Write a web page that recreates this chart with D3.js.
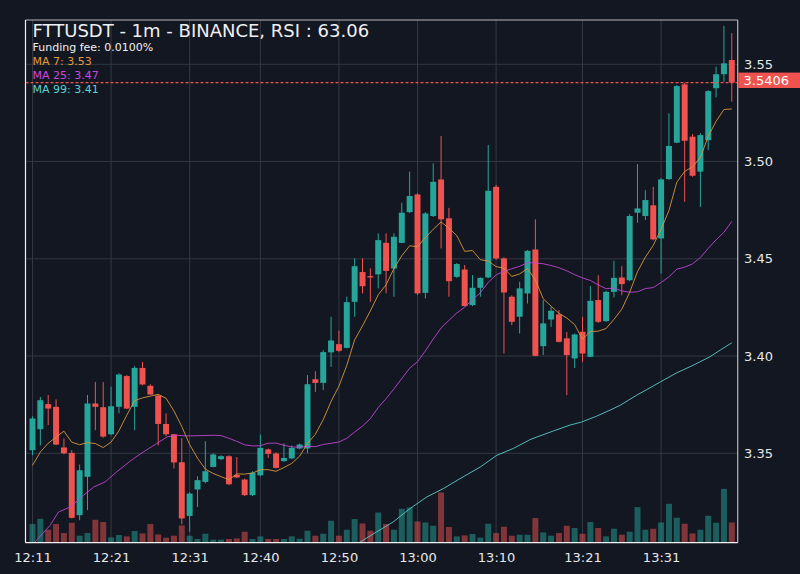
<!DOCTYPE html>
<html><head><meta charset="utf-8">
<script src="https://cdn.jsdelivr.net/npm/d3@7"></script>
<style>html,body{margin:0;padding:0;background:#131722;}svg{display:block}</style>
</head><body><svg id="c" width="800" height="574"></svg>
<script>
// ---------- DATA ----------
const titleText = "FTTUSDT - 1m - BINANCE, RSI : 63.06";
const fundingText = "Funding fee: 0.0100%";
const maLabels = ["MA 7: 3.53", "MA 25: 3.47", "MA 99: 3.41"];
const startTime = "12:11";              // first 1-minute candle
const tickLabels = ["12:11","12:21","12:31","12:40","12:50","13:00","13:10","13:21","13:31"];
const priceTicks = [3.35, 3.40, 3.45, 3.50, 3.55];
const lastPrice = 3.5406;

const open = [3.3516,3.3624,3.3753,3.3739,3.3530,3.3502,3.3182,3.3379,3.3756,3.3737,
3.3598,3.3739,3.3897,3.3739,3.3939,3.3847,3.3797,3.3651,3.3598,3.3454,
3.3178,3.3314,3.3353,3.3430,3.3470,3.3485,3.3389,3.3365,3.3285,3.3387,
3.3520,3.3499,3.3460,3.3474,3.3525,3.3525,3.3881,3.3862,3.4019,3.4061,
3.4042,3.4279,3.4432,3.4411,3.4420,3.4582,3.4450,3.4582,3.4740,3.4831,
3.4325,3.4720,3.4908,3.4708,3.4407,3.4445,3.4262,3.4351,3.4404,3.4870,
3.4502,3.4305,3.4202,3.4322,3.4548,3.4051,3.4188,3.4214,3.4091,3.3988,
3.4125,3.3996,3.4288,3.4180,3.4330,3.4404,3.4390,3.4737,3.4720,3.4775,
3.4605,3.4910,3.5097,3.5397,3.5128,3.4948,3.5110,3.5377,3.5449,3.5522];
const high = [3.3690,3.3790,3.3800,3.3777,3.3576,3.3516,3.3442,3.3800,3.3867,3.3866,
3.3842,3.3912,3.3902,3.3948,3.3970,3.3855,3.3802,3.3705,3.3600,3.3578,
3.3300,3.3382,3.3562,3.3500,3.3490,3.3490,3.3481,3.3370,3.3408,3.3597,
3.3525,3.3505,3.3551,3.3540,3.3550,3.3902,3.3922,3.4030,3.4202,3.4130,
3.4305,3.4502,3.4502,3.4451,3.4631,3.4631,3.4631,3.4788,3.4948,3.4838,
3.4740,3.4991,3.5131,3.4762,3.4478,3.4468,3.4416,3.4405,3.5085,3.4880,
3.4508,3.4313,3.4382,3.4545,3.4703,3.4288,3.4253,3.4236,3.4124,3.4116,
3.4202,3.4360,3.4416,3.4336,3.4490,3.4462,3.4730,3.4987,3.4853,3.4870,
3.4915,3.5248,3.5393,3.5405,3.5142,3.5146,3.5367,3.5488,3.5697,3.5660];
const low = [3.3490,3.3540,3.3645,3.3542,3.3495,3.3165,3.3156,3.3208,3.3619,3.3580,
3.3593,3.3706,3.3727,3.3619,3.3850,3.3800,3.3540,3.3588,3.3422,3.3135,
3.3096,3.3224,3.3346,3.3428,3.3465,3.3336,3.3372,3.3280,3.3280,3.3382,
3.3476,3.3422,3.3455,3.3470,3.3520,3.3500,3.3816,3.3825,3.3944,3.4020,
3.4040,3.4202,3.4322,3.4279,3.4348,3.4323,3.4305,3.4580,3.4735,3.4313,
3.4296,3.4715,3.4553,3.4305,3.4402,3.4255,3.4257,3.4305,3.4400,3.4495,
3.4013,3.4159,3.4116,3.4270,3.3999,3.4005,3.4150,3.4070,3.3799,3.3939,
3.3970,3.3994,3.4170,3.4175,3.4301,3.4313,3.4385,3.4685,3.4699,3.4595,
3.4425,3.4905,3.5095,3.4793,3.4922,3.4767,3.5059,3.5330,3.5410,3.5308];
const close = [3.3679,3.3773,3.3730,3.3545,3.3500,3.3168,3.3413,3.3756,3.3739,3.3586,
3.3742,3.3905,3.3730,3.3939,3.3854,3.3802,3.3651,3.3598,3.3453,3.3165,
3.3293,3.3362,3.3408,3.3494,3.3485,3.3341,3.3376,3.3285,3.3400,3.3528,
3.3497,3.3425,3.3476,3.3528,3.3545,3.3855,3.3862,3.4020,3.4080,3.4027,
3.4277,3.4462,3.4359,3.4404,3.4596,3.4438,3.4613,3.4737,3.4823,3.4322,
3.4733,3.4896,3.4703,3.4385,3.4473,3.4257,3.4351,3.4402,3.4850,3.4502,
3.4327,3.4176,3.4348,3.4541,3.4001,3.4168,3.4233,3.4073,3.4005,3.4111,
3.4013,3.4284,3.4176,3.4330,3.4402,3.4370,3.4720,3.4759,3.4802,3.4600,
3.4908,3.5080,3.5388,3.5107,3.4927,3.5136,3.5362,3.5449,3.5505,3.5406];
const volume = [18.7,24.0,13.0,18.7,9.7,20.0,7.0,9.7,23.0,20.7,
5.3,7.7,6.3,11.7,9.3,18.7,8.3,5.0,7.0,17.3,
7.0,3.7,9.0,3.0,3.0,3.7,4.3,11.0,3.7,6.3,
3.7,3.7,3.7,6.3,4.0,12.0,7.0,9.0,22.0,7.0,
13.0,23.7,19.3,12.0,30.3,18.7,13.0,34.0,35.3,21.3,
20.3,17.0,50.3,15.7,6.3,7.3,8.7,5.0,19.0,9.7,
16.0,7.0,8.0,8.0,24.7,10.3,7.0,9.7,17.0,14.7,
9.0,20.7,14.7,6.3,14.0,8.0,11.0,35.7,13.0,14.0,
20.3,39.0,25.0,19.0,9.3,13.0,27.0,20.0,54.0,20.3];

// moving-average warm-up values (before enough candles exist)
const ma7HeadIdx  = [0, 1, 2, 3, 4, 5];
const ma7HeadVal  = [3.3438, 3.3507, 3.3552, 3.3583, 3.3614, 3.3557];
const ma25HeadIdx = [0, 2.25, 3.3, 4.8, 6.5, 7.8, 9.25, 10.7, 12.4, 14.1, 15.8, 17.1, 18.4, 19.6, 23.2];
const ma25HeadVal = [3.3030, 3.3130, 3.3198, 3.3224, 3.3284, 3.3327, 3.3353, 3.3404, 3.3459, 3.3507, 3.3550, 3.3584, 3.3593, 3.3589, 3.3593];
// MA 99
const ma99Idx = [39, 41.7, 43.8, 45.9, 48.05, 50.2, 52.3, 54.8, 57.0, 59.1, 61.2, 63.3, 64.2, 66.3, 68.4, 69.9, 71.8, 73.5, 74.8, 76.9, 78.2, 79.9, 82.0, 84.1, 86.2, 87.5, 89];
const ma99Val = [3.2975, 3.3044, 3.3096, 3.3147, 3.3216, 3.3276, 3.3319, 3.3379, 3.3430, 3.3490, 3.3525, 3.3570, 3.3584, 3.3615, 3.3645, 3.3661, 3.3691, 3.3722, 3.3747, 3.3799, 3.3828, 3.3867, 3.3914, 3.3953, 3.3996, 3.4030, 3.4068];

// ---------- LAYOUT ----------
const plot = {l: 25.5, r: 737.7, t: 20, b: 542.7};
const colors = {bg:"#131722", up:"#26a69a", down:"#ef5350", grid:"#343843",
  ma7:"#d9963e", ma25:"#c045d4", ma99:"#5ccaca", text:"#e8e8e8"};
const font = "DejaVu Sans, Verdana, sans-serif";

const parseHM = d3.timeParse("%Y-%m-%d %H:%M");
const t0 = parseHM("2022-11-08 " + startTime);
const times = open.map((_, i) => d3.timeMinute.offset(t0, i));
const tAt = idx => new Date(t0.getTime() + idx * 60000);

const x = d3.scaleTime()
  .domain([tAt(-0.89), tAt(89.75)])
  .range([plot.l, plot.r]);
const y = d3.scaleLinear().domain([3.30404, 3.57278]).range([plot.b, plot.t]);
const yVol = d3.scaleLinear().domain([0, d3.max(volume)]).range([plot.b, plot.b - 0.103 * (plot.b - plot.t)]);

const step = x(tAt(1)) - x(tAt(0));
const bodyW = step * 0.76;

const svg = d3.select("#c");
svg.append("rect").attr("width", 800).attr("height", 574).attr("fill", colors.bg);

svg.append("defs").append("clipPath").attr("id", "clip")
  .append("rect").attr("x", plot.l).attr("y", plot.t)
  .attr("width", plot.r - plot.l).attr("height", plot.b - plot.t);

const tickTimes = tickLabels.map(s => parseHM("2022-11-08 " + s));

// grid
const grid = svg.append("g");
grid.selectAll("line.h").data(priceTicks).join("line")
  .attr("x1", plot.l).attr("x2", plot.r)
  .attr("y1", d => y(d)).attr("y2", d => y(d))
  .attr("stroke", colors.grid).attr("stroke-width", 1);
grid.selectAll("line.v").data(tickTimes).join("line")
  .attr("x1", d => x(d)).attr("x2", d => x(d))
  .attr("y1", plot.t).attr("y2", plot.b)
  .attr("stroke", colors.grid).attr("stroke-width", 1);

const g = svg.append("g").attr("clip-path", "url(#clip)");

// volume
g.selectAll("rect.vol").data(volume).join("rect")
  .attr("x", (d, i) => x(times[i]) - bodyW / 2)
  .attr("width", bodyW)
  .attr("y", d => yVol(d))
  .attr("height", d => plot.b - yVol(d))
  .attr("fill", (d, i) => close[i] >= open[i] ? colors.up : colors.down)
  .attr("opacity", 0.5);

// candles
const idx = d3.range(open.length);
g.selectAll("line.wick").data(idx).join("line")
  .attr("x1", i => x(times[i])).attr("x2", i => x(times[i]))
  .attr("y1", i => y(high[i])).attr("y2", i => y(low[i]))
  .attr("stroke", i => close[i] >= open[i] ? colors.up : colors.down)
  .attr("stroke-width", 1);
g.selectAll("rect.body").data(idx).join("rect")
  .attr("x", i => x(times[i]) - bodyW / 2)
  .attr("width", bodyW)
  .attr("y", i => y(Math.max(open[i], close[i])))
  .attr("height", i => Math.max(1, Math.abs(y(open[i]) - y(close[i]))))
  .attr("fill", i => close[i] >= open[i] ? colors.up : colors.down);

// moving averages
function sma(n, headIdx, headVal) {
  const pts = headIdx.map((k, j) => [k, headVal[j]]);
  for (let i = n - 1; i < close.length; i++) {
    pts.push([i, d3.mean(close.slice(i - n + 1, i + 1))]);
  }
  return pts;
}
const ma7 = sma(7, ma7HeadIdx, ma7HeadVal);
const ma25 = sma(25, ma25HeadIdx, ma25HeadVal);
const ma99 = ma99Idx.map((k, j) => [k, ma99Val[j]]);
const line = d3.line().x(d => x(tAt(d[0]))).y(d => y(d[1]));
[[ma99, colors.ma99], [ma25, colors.ma25], [ma7, colors.ma7]].forEach(([pts, c]) => {
  g.append("path").attr("d", line(pts)).attr("fill", "none")
    .attr("stroke", c).attr("stroke-width", 0.9);
});

// last price dashed line
svg.append("line")
  .attr("x1", plot.l).attr("x2", plot.r)
  .attr("y1", y(lastPrice)).attr("y2", y(lastPrice))
  .attr("stroke", colors.down).attr("stroke-width", 1.1)
  .attr("stroke-dasharray", "3,2");

// frame
svg.append("line").attr("x1", plot.l).attr("x2", plot.r).attr("y1", plot.t).attr("y2", plot.t)
  .attr("stroke", "#b8b8b8").attr("stroke-width", 1.2);
svg.append("line").attr("x1", plot.r).attr("x2", plot.r).attr("y1", plot.t).attr("y2", plot.b)
  .attr("stroke", "#b8b8b8").attr("stroke-width", 1.2);
svg.append("line").attr("x1", plot.l).attr("x2", plot.l).attr("y1", plot.t).attr("y2", plot.b)
  .attr("stroke", "#f2f2f2").attr("stroke-width", 1.2);
svg.append("line").attr("x1", plot.l).attr("x2", plot.r).attr("y1", plot.b).attr("y2", plot.b)
  .attr("stroke", "#f2f2f2").attr("stroke-width", 1.2);

// axes
const yAxis = d3.axisRight(y).tickValues(priceTicks).tickFormat(d3.format(".2f")).tickSize(0).tickPadding(6.3);
const ya = svg.append("g").attr("transform", `translate(${plot.r},0)`).call(yAxis);
ya.select(".domain").remove();
ya.selectAll("text").attr("fill", colors.text).style("font-family", font).style("font-size", "13px");

const xAxis = d3.axisBottom(x).tickValues(tickTimes).tickFormat(d3.timeFormat("%H:%M")).tickSize(0).tickPadding(10.5);
const xa = svg.append("g").attr("transform", `translate(0,${plot.b})`).call(xAxis);
xa.select(".domain").remove();
xa.selectAll("text").attr("fill", colors.text).style("font-family", font).style("font-size", "13px");

// last price label
const py = y(lastPrice);
svg.append("rect").attr("x", plot.r + 0.6).attr("y", py - 10).attr("width", 800 - plot.r).attr("height", 15.4)
  .attr("fill", colors.down);
svg.append("text").attr("x", 743.5).attr("y", py + 2.2).text(d3.format(".4f")(lastPrice))
  .attr("fill", "#ffffff").style("font-family", font).style("font-size", "13px");

// titles
svg.append("text").attr("x", 32.5).attr("y", 36.7).text(titleText)
  .attr("fill", "#f0f0f0").style("font-family", font).style("font-size", "18px");
svg.append("text").attr("x", 32.5).attr("y", 50.7).text(fundingText)
  .attr("fill", "#f0f0f0").style("font-family", font).style("font-size", "11px");
const maCols = [colors.ma7, colors.ma25, colors.ma99];
const maTextCols = ["#e39b3f", "#cf45e0", "#5ed0d0"];
maLabels.forEach((s, j) => {
  svg.append("text").attr("x", 32.5).attr("y", 64.8 + j * 14.2).text(s)
    .attr("fill", maTextCols[j]).style("font-family", font).style("font-size", "11px");
});
</script></body></html>
